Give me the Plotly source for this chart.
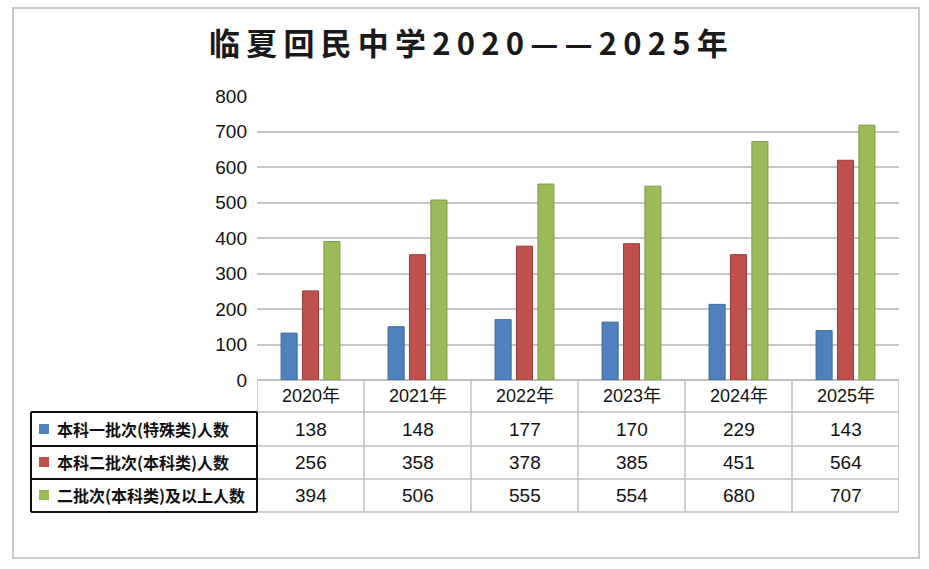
import plotly.graph_objects as go

# categories and series
years = ["2020年", "2021年", "2022年", "2023年", "2024年", "2025年"]
series_names = ["本科一批次(特殊类)人数", "本科二批次(本科类)人数", "二批次(本科类)及以上人数"]
colors = ["#4F81BD", "#C0504D", "#9BBB59"]
edge_colors = ["#3A679C", "#9E3B38", "#7E9A45"]

# bar heights as drawn in the picture
bar_first = [132, 150, 170, 163, 213, 139]
bar_second = [251, 353, 377, 384, 353, 619]
bar_above = [390, 507, 552, 546, 672, 718]

# values printed in the data table
table_first = [138, 148, 177, 170, 229, 143]
table_second = [256, 358, 378, 385, 451, 564]
table_above = [394, 506, 555, 554, 680, 707]

y_ticks = [0, 100, 200, 300, 400, 500, 600, 700, 800]

title_text = "临夏回民中学2020——2025年"

W, H = 929, 569


def px(x):
    return x / W


def py(y):
    return 1 - y / H


FONT = "Liberation Sans, Arial, Noto Sans CJK SC, sans-serif"
CJK = "Noto Sans CJK SC, sans-serif"

fig = go.Figure()
for name, vals, c, ec in zip(series_names, [bar_first, bar_second, bar_above], colors, edge_colors):
    fig.add_trace(go.Bar(
        x=years, y=vals, name=name,
        marker=dict(color=c, line=dict(color=ec, width=1)),
        hoverinfo="x+y+name",
    ))

shapes = []
annotations = []


def label(x, y, text, font, xref="paper", xanchor="center"):
    annotations.append(dict(x=x, y=y, xref=xref, yref="paper", text=text,
                            showarrow=False, xanchor=xanchor, yanchor="middle",
                            font=font))


# outer frame
shapes.append(dict(type="rect", xref="paper", yref="paper",
                   x0=px(13), x1=px(919), y0=py(8), y1=py(558),
                   line=dict(color="#CACACA", width=2)))

# table grid (gray part under the plot)
grid = "#BFBFBF"
row_lines = [412, 446, 479, 512]
for yy in row_lines:
    shapes.append(dict(type="line", xref="x", yref="paper",
                       x0=-0.5, x1=len(years) - 0.5, y0=py(yy), y1=py(yy),
                       line=dict(color=grid, width=1.5)))
for i in range(len(years) + 1):
    shapes.append(dict(type="line", xref="x", yref="paper",
                       x0=i - 0.5, x1=i - 0.5, y0=py(380), y1=py(512),
                       line=dict(color=grid, width=1.5)))

# legend column box (black)
for yy in row_lines:
    shapes.append(dict(type="line", xref="paper", yref="paper",
                       x0=px(31), x1=px(257), y0=py(yy), y1=py(yy),
                       line=dict(color="#111111", width=2)))
for xx in [31, 257]:
    shapes.append(dict(type="line", xref="paper", yref="paper",
                       x0=px(xx), x1=px(xx), y0=py(412), y1=py(512),
                       line=dict(color="#111111", width=2)))

# header row with years
for yr in years:
    label(yr, py(396), yr, dict(family=FONT, size=18, color="#111111"), xref="x")

row_centers = [429, 462, 495]
for r, (name, vals, c) in enumerate(zip(series_names, [table_first, table_second, table_above], colors)):
    yc = row_centers[r]
    shapes.append(dict(type="rect", xref="paper", yref="paper",
                       x0=px(39), x1=px(49), y0=py(yc + 5), y1=py(yc - 5),
                       fillcolor=c, line=dict(width=0)))
    label(px(55), py(yc), name,
          dict(family=CJK, size=16, color="#111111", weight="bold"), xanchor="left")
    for yr, v in zip(years, vals):
        label(yr, py(yc), str(v), dict(family=FONT, size=19, color="#111111"), xref="x")

# title with spaced letters
label(px(468), py(41), "<b>" + "\u2009".join(title_text) + "</b>",
      dict(family=CJK, size=31, color="#1A1A1A"))

fig.update_layout(
    width=W, height=H,
    margin=dict(l=0, r=0, t=0, b=0, pad=0),
    paper_bgcolor="white", plot_bgcolor="white",
    showlegend=False,
    barmode="group", bargap=0.4, bargroupgap=0.25,
    xaxis=dict(domain=[px(257), px(899)], range=[-0.5, len(years) - 0.5],
               showticklabels=False, showgrid=False, zeroline=False, showline=False,
               automargin=False, fixedrange=True),
    yaxis=dict(domain=[py(380), py(96)], range=[0, 800], tickvals=y_ticks,
               showgrid=True, gridcolor="#C6C6C6", gridwidth=1.5,
               zeroline=True, zerolinecolor=grid, zerolinewidth=1.5,
               showline=False, ticks="", ticklabelstandoff=9,
               tickfont=dict(family=FONT, size=19, color="#111111"),
               automargin=False, fixedrange=True),
    shapes=shapes,
    annotations=annotations,
)

fig.write_html("out.html", config={"displayModeBar": False},
               post_script="document.body.style.margin='0';")
